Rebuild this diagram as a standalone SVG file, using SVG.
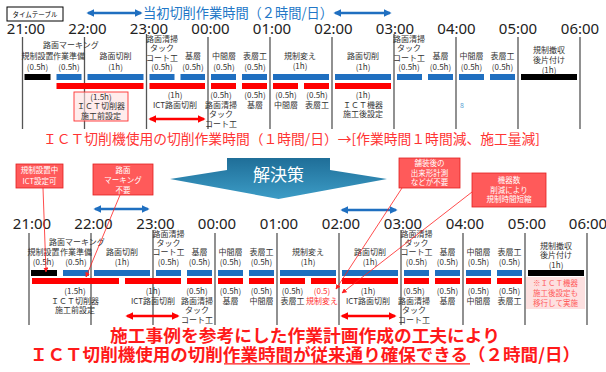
<svg xmlns="http://www.w3.org/2000/svg" width="606" height="372" viewBox="0 0 606 372">
<style>
text{font-family:"Noto Sans CJK JP","Noto Sans",sans-serif}
.tm{font-family:"Noto Sans","Noto Sans CJK JP",sans-serif;font-size:15px;fill:#222;text-anchor:middle}
.lb{font-size:8px;fill:#333;text-anchor:middle}
.vl{stroke:#555;stroke-width:1.3}
.bb{fill:#1f6fc0}
.rb{fill:#ff0000}
.kb{fill:#000}
.cb{fill:#ff5a5a;stroke:#e02020;stroke-width:0.8}
.ct{font-size:7.5px;fill:#fff;text-anchor:middle}
.ba{stroke:#1f6fc0;stroke-width:2.5;fill:none;marker-start:url(#ab);marker-end:url(#ab)}
.ra{stroke:#ff0000;stroke-width:2.5;fill:none;marker-start:url(#ar);marker-end:url(#ar)}
.cl{stroke:#ff2020;stroke-width:0.8;fill:none;marker-end:url(#ac)}
</style>
<defs>
<marker id="ab" viewBox="0 0 10 10" refX="8" refY="5" markerWidth="3.2" markerHeight="3.2" orient="auto-start-reverse"><path d="M0,0 L10,5 L0,10 z" fill="#1f6fc0"/></marker>
<marker id="ar" viewBox="0 0 10 10" refX="8" refY="5" markerWidth="3.2" markerHeight="3.2" orient="auto-start-reverse"><path d="M0,0 L10,5 L0,10 z" fill="#ff0000"/></marker>
<marker id="ac" viewBox="0 0 10 10" refX="9" refY="5" markerWidth="5" markerHeight="5" markerUnits="userSpaceOnUse" orient="auto"><path d="M0,0 L10,5 L0,10 z" fill="#ff2020"/></marker>
<linearGradient id="gs" x1="0" y1="0" x2="0" y2="1"><stop offset="0" stop-color="#1f6e98"/><stop offset="1" stop-color="#3c9cc6"/></linearGradient>
</defs>

<!-- header -->
<g id="title-box">
<rect x="7" y="7" width="56" height="14" fill="#fff" stroke="#000" stroke-width="1"/>
<text x="35" y="16.5" font-size="6.5" text-anchor="middle" fill="#000">タイムテーブル</text>
</g>
<g id="top-title">
<text x="143" y="17.5" font-size="14" fill="#2277c7" textLength="190" lengthAdjust="spacingAndGlyphs">当初切削作業時間（２時間/日）</text>
</g>

<!-- top time axis -->
<g id="top-axis">
<text class="tm" x="26" y="33.5">21:00</text>
<text class="tm" x="87.5" y="33.5">22:00</text>
<text class="tm" x="149" y="33.5">23:00</text>
<text class="tm" x="210.5" y="33.5">00:00</text>
<text class="tm" x="272" y="33.5">01:00</text>
<text class="tm" x="333.5" y="33.5">02:00</text>
<text class="tm" x="395" y="33.5">03:00</text>
<text class="tm" x="456.5" y="33.5">04:00</text>
<text class="tm" x="518" y="33.5">05:00</text>
<text class="tm" x="580" y="33.5">06:00</text>
<line class="vl" x1="22.5" y1="37" x2="22.5" y2="129"/>
<line class="vl" x1="84.5" y1="37" x2="84.5" y2="129"/>
<line class="vl" x1="146.5" y1="34" x2="146.5" y2="129"/>
<line class="vl" x1="208" y1="37" x2="208" y2="129"/>
<line class="vl" x1="270" y1="37" x2="270" y2="129"/>
<line class="vl" x1="332" y1="37" x2="332" y2="129"/>
<line class="vl" x1="394" y1="34" x2="394" y2="129"/>
<line class="vl" x1="456" y1="37" x2="456" y2="129"/>
<line class="vl" x1="518" y1="37" x2="518" y2="129"/>
<line class="vl" x1="580" y1="37" x2="580" y2="129"/>
</g>

<!-- top tasks -->
<g id="t-kisei-setchi">
<rect class="kb" x="24.5" y="74" width="26" height="6"/>
<text class="lb" x="37.5" y="59">規制設置</text>
<text class="lb" x="37.5" y="69.5">(0.5h)</text>
</g>
<g id="t-junbi">
<rect class="bb" x="56.5" y="74" width="25" height="6"/>
<text class="lb" x="71" y="48">路面マーキング</text>
<text class="lb" x="69" y="59">作業準備</text>
<text class="lb" x="69" y="69.5">(0.5h)</text>
</g>
<g id="t-sessaku1">
<rect class="bb" x="87.5" y="74" width="56" height="6"/>
<text class="lb" x="115.5" y="59">路面切削</text>
<text class="lb" x="115.5" y="69.5">(1h)</text>
</g>
<g id="t-seiso1">
<rect class="bb" x="149.5" y="74" width="25" height="6"/>
<text class="lb" x="162" y="41.5">路面清掃</text>
<text class="lb" x="162" y="51">タック</text>
<text class="lb" x="162" y="60.5">コート工</text>
<text class="lb" x="162" y="70">(0.5h)</text>
</g>
<g id="t-kiso1">
<rect class="bb" x="180.5" y="74" width="24.5" height="6"/>
<text class="lb" x="193" y="59">基層</text>
<text class="lb" x="193" y="69.5">(0.5h)</text>
</g>
<g id="t-chukan1">
<rect class="bb" x="211" y="74" width="25" height="6"/>
<text class="lb" x="224" y="59">中間層</text>
<text class="lb" x="224" y="69.5">(0.5h)</text>
</g>
<g id="t-hyoso1">
<rect class="bb" x="242" y="74" width="25" height="6"/>
<text class="lb" x="255" y="59">表層工</text>
<text class="lb" x="255" y="69.5">(0.5h)</text>
</g>
<g id="t-kaeru">
<rect class="bb" x="273" y="74" width="56" height="6"/>
<text class="lb" x="300" y="59">規制変え</text>
<text class="lb" x="300" y="69">(1h)</text>
</g>
<g id="t-sessaku2">
<rect class="bb" x="335" y="74" width="56" height="6"/>
<text class="lb" x="363" y="59">路面切削</text>
<text class="lb" x="363" y="69.5">(1h)</text>
</g>
<g id="t-seiso2">
<rect class="bb" x="397" y="74" width="25" height="6"/>
<text class="lb" x="409" y="41.5">路面清掃</text>
<text class="lb" x="409" y="51">タック</text>
<text class="lb" x="409" y="60.5">コート工</text>
<text class="lb" x="409" y="70">(0.5h)</text>
</g>
<g id="t-kiso2">
<rect class="bb" x="428" y="74" width="25" height="6"/>
<text class="lb" x="440.5" y="59">基層</text>
<text class="lb" x="440.5" y="69.5">(0.5h)</text>
</g>
<g id="t-chukan2">
<rect class="bb" x="459" y="74" width="25" height="6"/>
<text class="lb" x="471.5" y="59">中間層</text>
<text class="lb" x="471.5" y="69.5">(0.5h)</text>
</g>
<g id="t-hyoso2">
<rect class="bb" x="490" y="74" width="25" height="6"/>
<text class="lb" x="502.5" y="59">表層工</text>
<text class="lb" x="502.5" y="69.5">(0.5h)</text>
</g>
<g id="t-tesshu">
<rect class="kb" x="521" y="74" width="56" height="6"/>
<text class="lb" x="549" y="53">規制撤収</text>
<text class="lb" x="549" y="63">後片付け</text>
<text class="lb" x="549" y="72.5">(1h)</text>
</g>

<!-- top ICT row -->
<g id="ti-settei">
<rect class="rb" x="56.5" y="83" width="87" height="6"/>
<rect x="74" y="92" width="54" height="29" fill="#ffe0e0" fill-opacity="0.6" stroke="#ff3030" stroke-width="0.9"/>
<text class="lb" x="101" y="99.5">(1.5h)</text>
<text class="lb" x="101" y="109">ＩＣＴ切削器</text>
<text class="lb" x="101" y="118.5">施工前設定</text>
</g>
<g id="ti-sessaku">
<rect class="rb" x="149.5" y="83" width="55.5" height="6"/>
<text class="lb" x="175" y="98">(1h)</text>
<text class="lb" x="175" y="107.5">ICT路面切削</text>
</g>
<g id="ti-seiso">
<rect class="rb" x="211" y="83" width="25" height="6"/>
<text class="lb" x="221" y="98">(0.5h)</text>
<text class="lb" x="221" y="107.5">路面清掃</text>
<text class="lb" x="221" y="117">タック</text>
<text class="lb" x="221" y="126.5">コート工</text>
</g>
<g id="ti-kiso">
<rect class="rb" x="242" y="83" width="25" height="6"/>
<text class="lb" x="255" y="98">(0.5h)</text>
<text class="lb" x="255" y="107.5">基層</text>
</g>
<g id="ti-chukan">
<rect class="rb" x="273" y="83" width="25" height="6"/>
<text class="lb" x="286" y="98">(0.5h)</text>
<text class="lb" x="286" y="107.5">中間層</text>
</g>
<g id="ti-hyoso">
<rect class="rb" x="304" y="83" width="25" height="6"/>
<text class="lb" x="317" y="98">(0.5h)</text>
<text class="lb" x="317" y="107.5">表層工</text>
</g>
<g id="ti-gosettei">
<rect class="rb" x="335" y="83" width="56" height="6"/>
<text class="lb" x="363" y="98">(1h)</text>
<text class="lb" x="363" y="107.5">ＩＣＴ機器</text>
<text class="lb" x="363" y="117">施工後設定</text>
</g>
<text x="462" y="108" font-size="7" fill="#5a9fd4" text-anchor="middle">8</text>

<g id="top-result">
<text x="43" y="144" font-size="13.5" fill="#ff3333" textLength="497" lengthAdjust="spacingAndGlyphs">ＩＣＴ切削機使用の切削作業時間（１時間/日）→[作業時間１時間減、施工量減]</text>
</g>

<!-- solution arrow -->
<g id="solution">
<polygon points="227,158 330,158 330,170 387,179 278.5,199 170,179 227,170" fill="url(#gs)"/>
<text x="278.5" y="181" font-size="17" fill="#fff" text-anchor="middle">解決策</text>
</g>

<!-- callouts -->
<g id="c1">
<rect class="cb" x="16" y="164" width="47" height="24"/>
<text class="ct" x="39.5" y="173">規制設置中</text>
<text class="ct" x="39.5" y="183.5">ICT設定可</text>
</g>
<g id="c2">
<rect class="cb" x="93" y="164" width="60" height="31"/>
<text class="ct" x="123" y="172.5">路面</text>
<text class="ct" x="123" y="182.5">マーキング</text>
<text class="ct" x="123" y="192.5">不要</text>
</g>
<g id="c3">
<rect class="cb" x="399" y="158" width="61" height="30"/>
<text class="ct" x="429.5" y="166">舗装後の</text>
<text class="ct" x="429.5" y="175.5">出来形計測</text>
<text class="ct" x="429.5" y="185">などが不要</text>
</g>
<g id="c4">
<rect class="cb" x="472" y="173" width="74" height="34"/>
<text class="ct" x="509" y="182.5">機器数</text>
<text class="ct" x="509" y="192.5">削減により</text>
<text class="ct" x="509" y="202">規制時間短縮</text>
</g>

<!-- bottom time axis -->
<g id="bottom-axis">
<text class="tm" x="32" y="228.5">21:00</text>
<text class="tm" x="93.5" y="228.5">22:00</text>
<text class="tm" x="155.5" y="228.5">23:00</text>
<text class="tm" x="217" y="228.5">00:00</text>
<text class="tm" x="279" y="228.5">01:00</text>
<text class="tm" x="341" y="228.5">02:00</text>
<text class="tm" x="403" y="228.5">03:00</text>
<text class="tm" x="465" y="228.5">04:00</text>
<text class="tm" x="527" y="228.5">05:00</text>
<text class="tm" x="588" y="228.5">06:00</text>
<line class="vl" x1="29" y1="233" x2="29" y2="325"/>
<line class="vl" x1="91" y1="233" x2="91" y2="325"/>
<line class="vl" x1="153" y1="230" x2="153" y2="325"/>
<line class="vl" x1="215" y1="233" x2="215" y2="325"/>
<line class="vl" x1="277" y1="233" x2="277" y2="325"/>
<line class="vl" x1="339" y1="233" x2="339" y2="325"/>
<line class="vl" x1="401" y1="230" x2="401" y2="325"/>
<line class="vl" x1="463" y1="233" x2="463" y2="325"/>
<line class="vl" x1="525" y1="233" x2="525" y2="325"/>
<line class="vl" x1="587" y1="233" x2="587" y2="325"/>
</g>

<!-- bottom tasks -->
<g id="b-kisei-setchi">
<rect class="kb" x="31" y="270" width="26" height="6"/>
<text class="lb" x="43.5" y="255">規制設置</text>
<text class="lb" x="43.5" y="264.5">(0.5h)</text>
</g>
<g id="b-junbi">
<rect class="bb" x="63" y="270" width="26" height="6"/>
<text class="lb" x="77" y="245">路面マーキング</text>
<text class="lb" x="76" y="255">作業準備</text>
<text class="lb" x="76" y="264.5">(0.5h)</text>
</g>
<g id="b-sessaku1">
<rect class="bb" x="94" y="270" width="56" height="6"/>
<text class="lb" x="122" y="255">路面切削</text>
<text class="lb" x="122" y="264.5">(1h)</text>
</g>
<g id="b-seiso1">
<rect class="bb" x="156" y="270" width="25" height="6"/>
<text class="lb" x="168.5" y="237">路面清掃</text>
<text class="lb" x="168.5" y="246">タック</text>
<text class="lb" x="168.5" y="255">コート工</text>
<text class="lb" x="168.5" y="264.5">(0.5h)</text>
</g>
<g id="b-kiso1">
<rect class="bb" x="187" y="270" width="25" height="6"/>
<text class="lb" x="199.5" y="255">基層</text>
<text class="lb" x="199.5" y="264.5">(0.5h)</text>
</g>
<g id="b-chukan1">
<rect class="bb" x="218" y="270" width="25" height="6"/>
<text class="lb" x="230.5" y="255">中間層</text>
<text class="lb" x="230.5" y="264.5">(0.5h)</text>
</g>
<g id="b-hyoso1">
<rect class="bb" x="249" y="270" width="25" height="6"/>
<text class="lb" x="261.5" y="255">表層工</text>
<text class="lb" x="261.5" y="264.5">(0.5h)</text>
</g>
<g id="b-kaeru">
<rect class="bb" x="280" y="270" width="56" height="6"/>
<text class="lb" x="308" y="255">規制変え</text>
<text class="lb" x="308" y="264.5">(1h)</text>
</g>
<g id="b-sessaku2">
<rect class="bb" x="342" y="270" width="56" height="6"/>
<text class="lb" x="370" y="255">路面切削</text>
<text class="lb" x="370" y="264.5">(1h)</text>
</g>
<g id="b-seiso2">
<rect class="bb" x="404" y="270" width="25" height="6"/>
<text class="lb" x="416.5" y="237">路面清掃</text>
<text class="lb" x="416.5" y="246">タック</text>
<text class="lb" x="416.5" y="255">コート工</text>
<text class="lb" x="416.5" y="264.5">(0.5h)</text>
</g>
<g id="b-kiso2">
<rect class="bb" x="435" y="270" width="25" height="6"/>
<text class="lb" x="447.5" y="255">基層</text>
<text class="lb" x="447.5" y="264.5">(0.5h)</text>
</g>
<g id="b-chukan2">
<rect class="bb" x="466" y="270" width="25" height="6"/>
<text class="lb" x="478.5" y="255">中間層</text>
<text class="lb" x="478.5" y="264.5">(0.5h)</text>
</g>
<g id="b-hyoso2">
<rect class="bb" x="497" y="270" width="25" height="6"/>
<text class="lb" x="509.5" y="255">表層工</text>
<text class="lb" x="509.5" y="264.5">(0.5h)</text>
</g>
<g id="b-tesshu">
<rect class="kb" x="528" y="270" width="56" height="6"/>
<text class="lb" x="556" y="249">規制撤収</text>
<text class="lb" x="556" y="258">後片付け</text>
<text class="lb" x="556" y="267.5">(1h)</text>
</g>

<!-- bottom ICT row -->
<g id="bi-settei">
<rect class="rb" x="32" y="278" width="87" height="6"/>
<text class="lb" x="75" y="294">(1.5h)</text>
<text class="lb" x="75" y="303.5">ＩＣＴ切削器</text>
<text class="lb" x="75" y="313">施工前設定</text>
</g>
<g id="bi-sessaku1">
<rect class="rb" x="125" y="278" width="56" height="6"/>
<text class="lb" x="153" y="294">(1h)</text>
<text class="lb" x="153" y="303.5">ICT路面切削</text>
</g>
<g id="bi-seiso1">
<rect class="rb" x="187" y="278" width="25" height="6"/>
<text class="lb" x="197" y="294">(0.5h)</text>
<text class="lb" x="197" y="303.5">路面清掃</text>
<text class="lb" x="197" y="313">タック</text>
<text class="lb" x="197" y="322.5">コート工</text>
</g>
<g id="bi-kiso1">
<rect class="rb" x="218" y="278" width="25" height="6"/>
<text class="lb" x="230.5" y="294">(0.5h)</text>
<text class="lb" x="230.5" y="303.5">基層</text>
</g>
<g id="bi-chukan1">
<rect class="rb" x="249" y="278" width="25" height="6"/>
<text class="lb" x="261.5" y="294">(0.5h)</text>
<text class="lb" x="261.5" y="303.5">中間層</text>
</g>
<g id="bi-hyoso1">
<rect class="rb" x="280" y="278" width="25" height="6"/>
<text class="lb" x="292.5" y="294">(0.5h)</text>
<text class="lb" x="292.5" y="303.5">表層工</text>
</g>
<g id="bi-kaeru">
<rect class="rb" x="311" y="278" width="25" height="6"/>
<text class="lb" x="322" y="294" style="fill:#ff3030">(0.5)</text>
<text class="lb" x="322" y="303.5" style="fill:#ff3030">規制変え</text>
</g>
<g id="bi-sessaku2">
<rect class="rb" x="342" y="278" width="56" height="6"/>
<text class="lb" x="368" y="294">(1h)</text>
<text class="lb" x="368" y="303.5">ICT路面切削</text>
</g>
<g id="bi-seiso2">
<rect class="rb" x="404" y="278" width="25" height="6"/>
<text class="lb" x="414" y="294">(0.5h)</text>
<text class="lb" x="414" y="303.5">路面清掃</text>
<text class="lb" x="414" y="313">タック</text>
<text class="lb" x="414" y="322.5">コート工</text>
</g>
<g id="bi-kiso2">
<rect class="rb" x="435" y="278" width="25" height="6"/>
<text class="lb" x="447.5" y="294">(0.5h)</text>
<text class="lb" x="447.5" y="303.5">基層</text>
</g>
<g id="bi-chukan2">
<rect class="rb" x="466" y="278" width="25" height="6"/>
<text class="lb" x="478.5" y="294">(0.5h)</text>
<text class="lb" x="478.5" y="303.5">中間層</text>
</g>
<g id="bi-hyoso2">
<rect class="rb" x="497" y="278" width="25" height="6"/>
<text class="lb" x="509.5" y="294">(0.5h)</text>
<text class="lb" x="509.5" y="303.5">表層工</text>
</g>
<g id="bi-note">
<rect x="526" y="277" width="59" height="32" fill="#fde0e0"/>
<text x="555.5" y="286" font-size="7.5" fill="#ff5a5a" text-anchor="middle">※ＩＣＴ機器</text>
<text x="555.5" y="296" font-size="7.5" fill="#ff5a5a" text-anchor="middle">施工後設定も</text>
<text x="555.5" y="306" font-size="7.5" fill="#ff5a5a" text-anchor="middle">移行して実施</text>
</g>

<!-- connectors -->
<g id="connectors">
<line class="ba" x1="88" y1="13" x2="141" y2="13"/>
<line class="ba" x1="335" y1="13" x2="390" y2="13"/>
<line class="ra" x1="150" y1="119" x2="204" y2="119"/>
<line class="ba" x1="95" y1="209" x2="148" y2="209"/>
<line class="ba" x1="342" y1="210" x2="396" y2="210"/>
<line class="ra" x1="127" y1="316" x2="178" y2="316"/>
<line class="ra" x1="342" y1="316" x2="395" y2="316"/>
<line class="cl" x1="43" y1="188" x2="46" y2="272"/>
<line class="cl" x1="120" y1="195" x2="86" y2="277"/>
<line class="cl" x1="402" y1="188" x2="336" y2="289"/>
<line class="cl" x1="472" y1="192" x2="342" y2="293"/>
</g>

<!-- conclusion -->
<g id="conclusion">
<text x="110" y="342" font-size="17" font-weight="700" fill="#ff1a1a" textLength="390" lengthAdjust="spacingAndGlyphs">施工事例を参考にした作業計画作成の工夫により</text>
<text x="30" y="360.5" font-size="17" font-weight="700" fill="#ff1a1a" textLength="550" lengthAdjust="spacingAndGlyphs">ＩＣＴ切削機使用の切削作業時間が従来通り確保できる（２時間/日）</text>
<line x1="224" y1="363.8" x2="470" y2="363.8" stroke="#ff1a1a" stroke-width="1.2"/>
</g>
</svg>
